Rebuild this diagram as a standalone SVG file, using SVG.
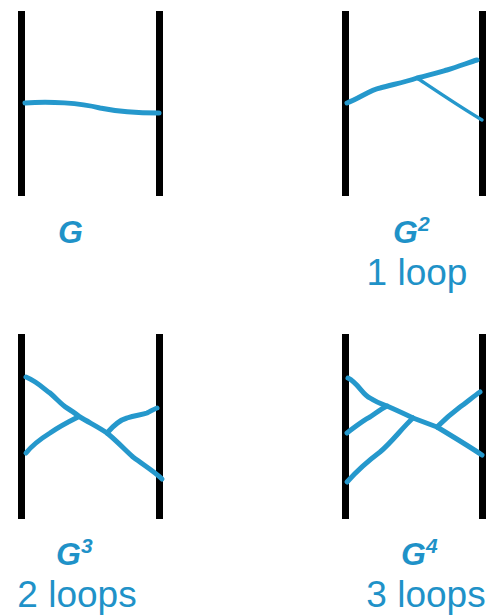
<svg xmlns="http://www.w3.org/2000/svg" width="488" height="615" viewBox="0 0 488 615">
<style>
.bar{fill:#000}
.w{fill:none;stroke:#2598cc;stroke-width:5;stroke-linecap:round;stroke-linejoin:round}
.thin{stroke-width:3.4}
.g{font-family:"Liberation Sans",Arial,sans-serif;font-weight:bold;font-style:italic;font-size:32px;fill:#1f92c8}
.sup{font-size:21px}
.cap{font-family:"Liberation Sans",Arial,sans-serif;font-size:37px;fill:#1f92c8;text-anchor:middle}
</style>
<rect width="488" height="615" fill="#fff"/>
<g id="G1">
<rect class="bar" x="18" y="11" width="7" height="185"/>
<rect class="bar" x="156" y="11" width="7" height="185"/>
<text class="g" x="58" y="243">G</text>
</g>
<g id="G2">
<rect class="bar" x="342" y="11" width="7" height="185"/>
<rect class="bar" x="479" y="11" width="7" height="185"/>
<text class="g" x="393" y="243">G<tspan class="sup" dy="-12">2</tspan></text>
<text class="cap" x="417" y="285">1 loop</text>
</g>
<g id="G3">
<rect class="bar" x="18" y="334" width="7" height="185"/>
<rect class="bar" x="156" y="334" width="7" height="185"/>
<text class="g" x="56" y="565">G<tspan class="sup" dy="-12">3</tspan></text>
<text class="cap" x="77" y="607">2 loops</text>
</g>
<g id="G4">
<rect class="bar" x="342" y="334" width="7" height="185"/>
<rect class="bar" x="479" y="334" width="7" height="185"/>
<text class="g" x="401" y="565">G<tspan class="sup" dy="-12">4</tspan></text>
<text class="cap" x="426" y="607">3 loops</text>
</g>
<g id="connectors">
<path class="w" d="M25,103 C50,101 80,103 100,108 C120,112 140,113 159,113"/>
<path class="w" d="M347,103 C360,98 370,90 380,88 C395,84 405,82 417,78 C430,75 440,72 447,70 C460,66 470,62 477,60"/>
<path class="w thin" d="M417,78 C435,90 460,107 482,120"/>
<path class="w" d="M26,377 C38,382 45,390 50,393 C58,400 62,405 67,408 C72,411 76,414 80,417 C90,423 100,428 107,433 C118,442 125,450 133,457 C145,466 155,472 162,479"/>
<path class="w" d="M26,453 C34,443 42,438 50,433 C60,426 70,421 78,417"/>
<path class="w" d="M107,433 C113,426 120,420 127,418 C135,415 142,415 147,413 C151,411 154,409 157,408"/>
<path class="w" d="M348,378 C358,383 363,395 370,398 C376,402 381,404 387,406 C396,410 405,414 413,418 C421,421 429,424 437,427 C452,436 467,445 482,455"/>
<path class="w" d="M347,433 C355,427 362,421 370,417 C376,413 381,409 387,406"/>
<path class="w" d="M347,482 C355,473 368,461 380,452 C392,442 402,428 413,418"/>
<path class="w" d="M437,427 C444,420 452,413 460,407 C467,402 474,396 480,392"/>
</g>
</svg>
